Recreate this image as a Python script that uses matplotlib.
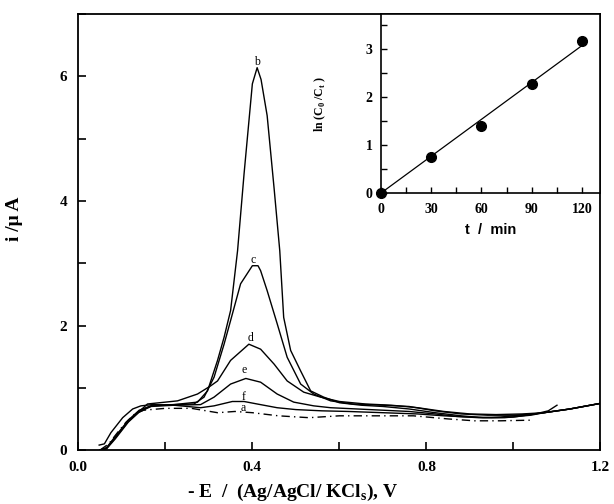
import numpy as np
import matplotlib.pyplot as plt
from matplotlib.ticker import MultipleLocator

# voltammogrammes (potentiel en V, courant en µA)
xa = [0.05, 0.07, 0.09, 0.11, 0.13, 0.15, 0.20, 0.26, 0.32, 0.36, 0.40, 0.46, 0.53, 0.60, 0.70, 0.77, 0.85, 0.91, 0.97, 1.04]
ya = [0.0, 0.10, 0.28, 0.45, 0.58, 0.64, 0.67, 0.67, 0.60, 0.62, 0.60, 0.55, 0.52, 0.55, 0.55, 0.55, 0.50, 0.47, 0.47, 0.48]

xb = [0.05, 0.065, 0.085, 0.115, 0.14, 0.17, 0.22, 0.274, 0.297, 0.32, 0.335, 0.35, 0.366, 0.381, 0.40, 0.411,
      0.42, 0.434, 0.45, 0.463, 0.472, 0.488, 0.511, 0.534, 0.564, 0.60, 0.65, 0.70, 0.76, 0.82, 0.88, 0.93,
      0.98, 1.04, 1.07, 1.13, 1.20]
yb = [0.0, 0.03, 0.2, 0.47, 0.63, 0.71, 0.73, 0.77, 0.95, 1.44, 1.81, 2.24, 3.20, 4.44, 5.88, 6.14,
      5.95, 5.37, 4.2, 3.2, 2.13, 1.60, 1.27, 0.95, 0.85, 0.76, 0.72, 0.70, 0.66, 0.60, 0.55, 0.52,
      0.52, 0.56, 0.60, 0.66, 0.75]

xc = [0.05, 0.065, 0.085, 0.115, 0.14, 0.17, 0.22, 0.266, 0.289, 0.312, 0.335, 0.35, 0.373, 0.40, 0.413, 0.419,
      0.434, 0.457, 0.48, 0.511, 0.541, 0.58, 0.63, 0.70, 0.76, 0.82, 0.88, 0.94, 1.00, 1.05, 1.08, 1.10]
yc = [0.0, 0.04, 0.22, 0.48, 0.64, 0.72, 0.73, 0.74, 0.85, 1.17, 1.70, 2.08, 2.67, 2.96, 2.96, 2.88,
      2.56, 2.03, 1.49, 1.06, 0.90, 0.79, 0.74, 0.72, 0.70, 0.63, 0.58, 0.56, 0.56, 0.58, 0.63, 0.72]

xd = [0.05, 0.065, 0.085, 0.115, 0.14, 0.159, 0.228, 0.274, 0.304, 0.32, 0.35, 0.392, 0.419, 0.45, 0.48, 0.518,
      0.557, 0.60, 0.66, 0.72, 0.78, 0.84, 0.90, 0.96, 1.02, 1.07, 1.13, 1.20]
yd = [0.0, 0.03, 0.2, 0.46, 0.62, 0.74, 0.79, 0.90, 1.03, 1.11, 1.44, 1.70, 1.62, 1.38, 1.11, 0.93,
      0.85, 0.78, 0.74, 0.72, 0.68, 0.62, 0.58, 0.57, 0.58, 0.60, 0.66, 0.75]

xe = [0.05, 0.065, 0.085, 0.115, 0.14, 0.167, 0.22, 0.281, 0.312, 0.35, 0.385, 0.419, 0.457, 0.495, 0.541, 0.58,
      0.64, 0.70, 0.76, 0.82, 0.87, 0.92, 0.97, 1.03, 1.07, 1.13, 1.20]
ye = [0.0, 0.02, 0.18, 0.45, 0.61, 0.70, 0.72, 0.73, 0.85, 1.06, 1.15, 1.09, 0.90, 0.77, 0.71, 0.68,
      0.66, 0.64, 0.62, 0.58, 0.54, 0.52, 0.53, 0.57, 0.60, 0.66, 0.75]

xf = [0.048, 0.06, 0.075, 0.102, 0.125, 0.144, 0.17, 0.22, 0.281, 0.312, 0.354, 0.381, 0.411, 0.457, 0.50, 0.56,
      0.62, 0.70, 0.78, 0.84, 0.90, 0.95, 1.00, 1.05, 1.07, 1.13, 1.20]
yf = [0.08, 0.10, 0.28, 0.52, 0.66, 0.71, 0.73, 0.72, 0.68, 0.71, 0.78, 0.78, 0.74, 0.68, 0.65, 0.63,
      0.62, 0.60, 0.58, 0.55, 0.53, 0.52, 0.53, 0.58, 0.60, 0.66, 0.75]

# position des lettres a-f
lettres = ['b', 'c', 'd', 'e', 'f', 'a']
lettres_x = [0.411, 0.402, 0.395, 0.382, 0.381, 0.379]
lettres_y = [6.23, 3.05, 1.80, 1.29, 0.86, 0.675]

# cinétique : ln(C0/Ct) en fonction du temps
t_min = [0, 30, 60, 90, 120]
ln_ratio = [0.0, 0.75, 1.40, 2.28, 3.17]

serif = 'Liberation Serif'

fig = plt.figure(figsize=(6.14, 5.04), dpi=100)
ax = fig.add_axes([0.1275, 0.107, 0.8505, 0.865])

for xs, ys in [(xb, yb), (xc, yc), (xd, yd), (xe, ye), (xf, yf)]:
    ax.plot(xs, ys, color='black', lw=1.0)
ax.plot(xa, ya, color='black', lw=1.0, dashes=[6, 3, 1, 3])

for l, lx, ly in zip(lettres, lettres_x, lettres_y):
    ax.text(lx, ly, l, fontsize=8.5, family=serif, ha='center', va='center')

ax.set_xlim(0, 1.2)
ax.set_ylim(0, 7)
ax.set_xticks([0, 0.2, 0.4, 0.6, 0.8, 1.0, 1.2])
ax.set_xticklabels(['0.0', '', '0.4', '', '0.8', '', '1.2'])
ax.set_yticks(range(8))
ax.set_yticklabels(['0', '', '2', '', '4', '', '6', ''])
ax.tick_params(direction='in', length=6, width=1.2, pad=8)
for lab in ax.get_xticklabels() + ax.get_yticklabels():
    lab.set_family(serif)
    lab.set_fontweight('bold')
    lab.set_fontsize(11)
for sp in ax.spines.values():
    sp.set_linewidth(1.3)

ax.set_xlabel('- E  /  (Ag/AgCl/ KCl$_\\mathregular{s}$), V', family=serif, fontweight='bold', fontsize=14)
ax.xaxis.set_label_coords(0.41, -0.072)
ax.set_ylabel('i /\u03bc A', family=serif, fontweight='bold', fontsize=14)
ax.yaxis.set_label_coords(-0.105, 0.53)

# encart
ins = fig.add_axes([0.620, 0.6165, 0.358, 0.3555])
pente = np.dot(t_min, ln_ratio) / np.dot(t_min, t_min)
t_fit = np.array([0, 120])
ins.plot(t_fit, pente * t_fit, color='black', lw=0.9)
ins.plot(t_min, ln_ratio, 'o', color='black', ms=7, clip_on=False)
ins.set_xlim(0, 131)
ins.set_ylim(0, 3.73)
ins.xaxis.set_major_locator(MultipleLocator(30))
ins.xaxis.set_minor_locator(MultipleLocator(15))
ins.yaxis.set_major_locator(MultipleLocator(1))
ins.yaxis.set_minor_locator(MultipleLocator(0.5))
ins.tick_params(which='both', direction='in', length=4, width=1.0, top=False, right=False)
ins.tick_params(axis='x', pad=7)
ins.tick_params(axis='y', pad=6)
for lab in ins.get_xticklabels() + ins.get_yticklabels():
    lab.set_family(serif)
    lab.set_fontweight('bold')
    lab.set_fontsize(10)
for sp in ins.spines.values():
    sp.set_linewidth(1.2)
ins.set_xlabel('t  /  min', family='Liberation Sans', fontweight='bold', fontsize=10.5, labelpad=5)
ins.set_ylabel('ln (C$_\\mathregular{0}$ /C$_\\mathregular{t}$ )', family=serif, fontweight='bold', fontsize=8.5)
ins.yaxis.set_label_coords(-0.24, 0.5)

fig.savefig('out.png', dpi=100)
